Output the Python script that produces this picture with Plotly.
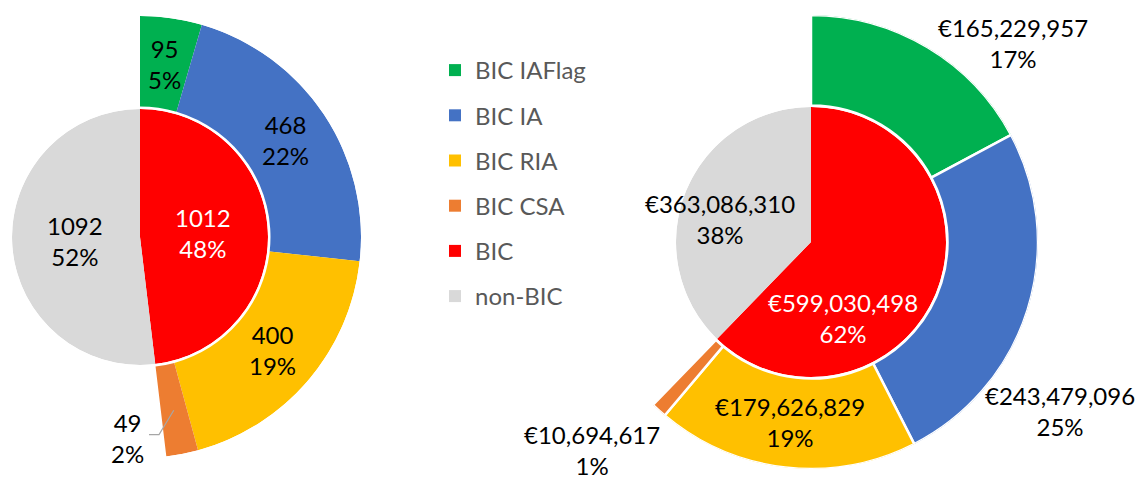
import math
import plotly.graph_objects as go

W, H = 1143, 481
OFF = 8  # the page body margin shifts the figure by 8px

# data
ring_names = ["BIC IAFlag", "BIC IA", "BIC RIA", "BIC CSA"]
inner_names = ["BIC", "non-BIC"]
left_ring = [95, 468, 400, 49]
left_inner = [1012, 1092]
right_ring = [165229957, 243479096, 179626829, 10694617]
right_inner = [599030498, 363086310]

ring_colors = ["#00B050", "#4472C4", "#FFC000", "#ED7D31"]
inner_colors = ["#FF0000", "#D9D9D9"]

FONT = "Lato"
FSIZE = 24


def arcs(vals, total):
    # (mid angle, span) in degrees, clockwise from 12 o'clock
    out, acc = [], 0
    for v in vals:
        out.append(((acc + v / 2) / total * 360, v / total * 360))
        acc += v
    return out


def dom(x0, x1, y0, y1):
    return dict(x=[(x0 - OFF) / W, (x1 - OFF) / W], y=[1 - (y1 - OFF) / H, 1 - (y0 - OFF) / H])


def pt(cx, cy, rad, ang):
    a = math.radians(ang)
    return (cx + rad * math.sin(a) - OFF) / W, 1 - (cy - rad * math.cos(a) - OFF) / H


charts = [
    dict(ring=left_ring, inner=left_inner, cx=140, cy=237, R=221, r=128, gap=2.5,
         line=0, sector=[-90, 90], fmt="{:d}", legend=True,
         ring_lab=[None, None, None, (201, 183.7)], inner_lab=[(63, None), (65, None)]),
    dict(ring=right_ring, inner=right_inner, cx=811, cy=242, R=227, r=135, gap=1.5,
         line=2.5, sector=[0, 360], fmt="€{:,}", legend=False,
         ring_lab=[(284, 45.4), (300.5, 124.2), None, (302, 226.5)],
         inner_lab=[(82.5, 157.2), (94, 284.2)]),
]

fig = go.Figure()
annotations = []
shapes = []
layout_polars = {}

for i, c in enumerate(charts):
    total = sum(c["inner"])
    cx, cy, R, r = c["cx"], c["cy"], c["R"], c["r"]
    ring_id = "polar%d" % (2 * i + 1) if i else "polar"
    inner_id = "polar%d" % (2 * i + 2)

    # outer ring (only the BIC part)
    for name, v, col, (mid, span) in zip(ring_names, c["ring"], ring_colors, arcs(c["ring"], total)):
        fig.add_trace(go.Barpolar(
            r=[R - r - c["gap"]], base=[r + c["gap"]], theta=[mid], width=[span],
            marker=dict(color=col, line=dict(color="white", width=c["line"])),
            name=name, legendgroup=name, showlegend=c["legend"],
            subplot=ring_id, hoverinfo="skip"))
    # inner pie
    for name, v, col, (mid, span) in zip(inner_names, c["inner"], inner_colors, arcs(c["inner"], total)):
        fig.add_trace(go.Barpolar(
            r=[r], base=[0], theta=[mid], width=[span],
            marker=dict(color=col, line=dict(width=0)),
            name=name, legendgroup=name, showlegend=c["legend"],
            subplot=inner_id, hoverinfo="skip"))

    s = c["sector"]
    if s == [0, 360]:
        rdom = dom(cx - R, cx + R, cy - R, cy + R)
    else:
        rdom = dom(cx, cx + R, cy - R, cy + R)
    common = dict(bgcolor="rgba(0,0,0,0)",
                  angularaxis=dict(visible=False, direction="clockwise", rotation=90))
    layout_polars[ring_id] = dict(domain=rdom, sector=s,
                                  radialaxis=dict(visible=False, range=[0, R]), **common)
    layout_polars[inner_id] = dict(domain=dom(cx - r, cx + r, cy - r, cy + r),
                                   radialaxis=dict(visible=False, range=[0, r]), **common)

    # data labels
    def label(v, mid, pos, default_rad, color="black"):
        rad, ang = pos if pos else (default_rad, None)
        ang = mid if ang is None else ang
        x, y = pt(cx, cy, rad, ang)
        txt = c["fmt"].format(v) + "<br>" + "{:.0%}".format(v / total)
        annotations.append(dict(x=x, y=y, xref="paper", yref="paper", text=txt,
                                showarrow=False, xanchor="center", yanchor="middle",
                                align="center", font=dict(family=FONT, size=FSIZE, color=color)))
        return x, y

    for v, (mid, span), pos in zip(c["ring"], arcs(c["ring"], total), c["ring_lab"]):
        lx, ly = label(v, mid, pos, (R + r) / 2)
        if i == 0 and pos:
            # leader line from slice to label
            sx, sy = pt(cx, cy, (R + r) / 2 + 2, mid)
            shapes.append(dict(type="path", xref="paper", yref="paper",
                               path="M%f,%f L%f,%f L%f,%f" % (sx, sy, lx + 32 / W, ly + 3 / H,
                                                               lx + 22 / W, ly + 3 / H),
                               line=dict(color="#A6A6A6", width=1.2)))
    for k, (v, (mid, span), pos) in enumerate(zip(c["inner"], arcs(c["inner"], total), c["inner_lab"])):
        label(v, mid, pos, r / 2, "white" if k == 0 else "black")

fig.update_layout(
    width=W, height=H,
    margin=dict(l=0, r=0, t=0, b=0),
    paper_bgcolor="white", plot_bgcolor="white",
    showlegend=True,
    legend=dict(x=(435 - OFF) / W, y=1 - (48 - OFF) / H, xanchor="left", yanchor="top",
                font=dict(family=FONT, size=FSIZE, color="#595959"),
                tracegroupgap=11, bgcolor="rgba(0,0,0,0)"),
    annotations=annotations,
    shapes=shapes,
    **layout_polars,
)

fig.write_html("out.html")
